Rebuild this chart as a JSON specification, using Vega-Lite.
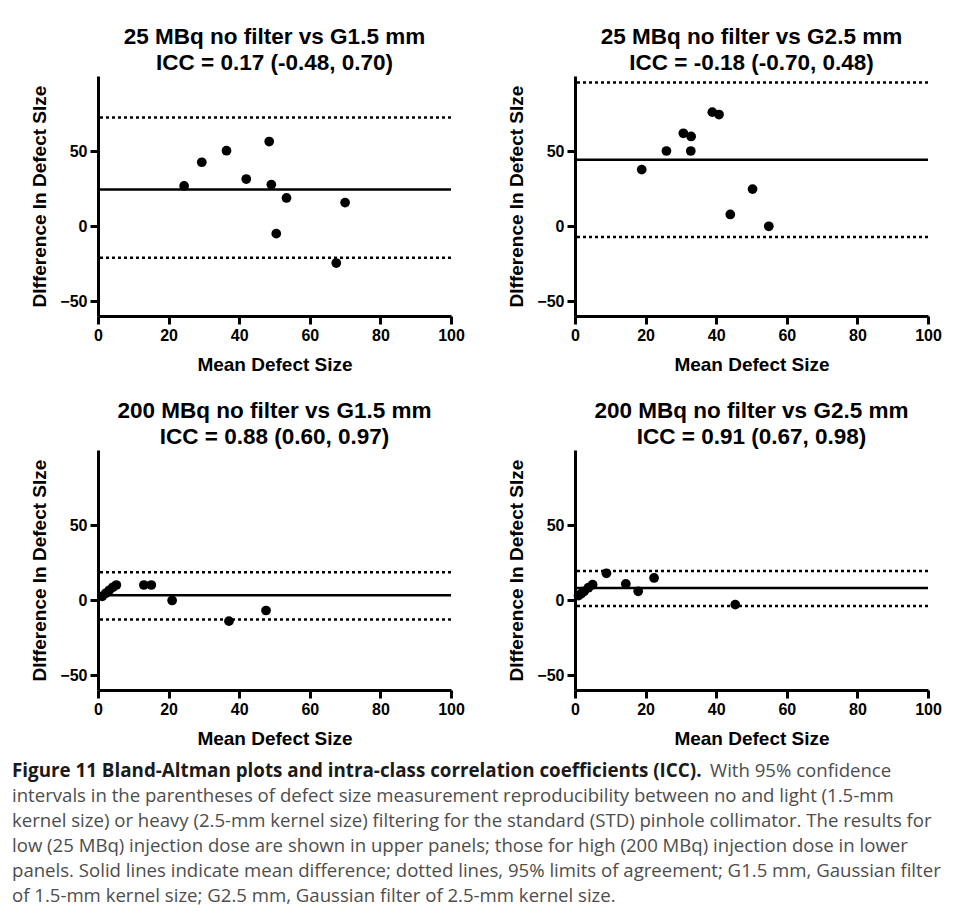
{
  "$schema": "https://vega.github.io/schema/vega-lite/v6.json",
  "background": "white",
  "padding": {"left": 12, "top": 25, "right": 0, "bottom": 0},
  "datasets": {
    "pts": [
      {"panel": "A", "mean": 24.4, "diff": 26.7},
      {"panel": "A", "mean": 29.4, "diff": 42.5},
      {"panel": "A", "mean": 36.4, "diff": 50.2},
      {"panel": "A", "mean": 42.0, "diff": 31.3},
      {"panel": "A", "mean": 48.5, "diff": 56.3},
      {"panel": "A", "mean": 49.1, "diff": 27.6},
      {"panel": "A", "mean": 53.4, "diff": 18.7},
      {"panel": "A", "mean": 50.5, "diff": -5.1},
      {"panel": "A", "mean": 67.5, "diff": -24.7},
      {"panel": "A", "mean": 70.0, "diff": 15.6},
      {"panel": "B", "mean": 18.9, "diff": 37.6},
      {"panel": "B", "mean": 25.9, "diff": 50.0},
      {"panel": "B", "mean": 30.7, "diff": 61.8},
      {"panel": "B", "mean": 32.9, "diff": 59.7},
      {"panel": "B", "mean": 32.8, "diff": 50.0},
      {"panel": "B", "mean": 38.9, "diff": 75.9},
      {"panel": "B", "mean": 40.8, "diff": 74.3},
      {"panel": "B", "mean": 50.3, "diff": 24.6},
      {"panel": "B", "mean": 44.0, "diff": 7.7},
      {"panel": "B", "mean": 54.9, "diff": -0.2},
      {"panel": "C", "mean": 1.2, "diff": 2.4},
      {"panel": "C", "mean": 2.2, "diff": 4.5},
      {"panel": "C", "mean": 3.2, "diff": 6.5},
      {"panel": "C", "mean": 4.2, "diff": 8.5},
      {"panel": "C", "mean": 5.2, "diff": 10.0},
      {"panel": "C", "mean": 13.0, "diff": 10.0},
      {"panel": "C", "mean": 15.1, "diff": 10.0},
      {"panel": "C", "mean": 21.0, "diff": -0.3},
      {"panel": "C", "mean": 37.1, "diff": -14.1},
      {"panel": "C", "mean": 47.6, "diff": -7.0},
      {"panel": "D", "mean": 1.0, "diff": 2.9},
      {"panel": "D", "mean": 1.8, "diff": 4.3},
      {"panel": "D", "mean": 2.6, "diff": 5.8},
      {"panel": "D", "mean": 3.8, "diff": 8.2},
      {"panel": "D", "mean": 5.0, "diff": 10.2},
      {"panel": "D", "mean": 8.9, "diff": 17.8},
      {"panel": "D", "mean": 14.4, "diff": 10.7},
      {"panel": "D", "mean": 17.9, "diff": 5.8},
      {"panel": "D", "mean": 22.4, "diff": 14.7},
      {"panel": "D", "mean": 45.4, "diff": -3.1}
    ],
    "lines": [
      {"panel": "A", "kind": "mean", "diff": 24.3},
      {"panel": "A", "kind": "limit", "diff": 72.3},
      {"panel": "A", "kind": "limit", "diff": -21.1},
      {"panel": "B", "kind": "mean", "diff": 44.2},
      {"panel": "B", "kind": "limit", "diff": 95.7},
      {"panel": "B", "kind": "limit", "diff": -7.4},
      {"panel": "C", "kind": "mean", "diff": 3.1},
      {"panel": "C", "kind": "limit", "diff": 18.5},
      {"panel": "C", "kind": "limit", "diff": -13.0},
      {"panel": "D", "kind": "mean", "diff": 8.0},
      {"panel": "D", "kind": "limit", "diff": 19.4},
      {"panel": "D", "kind": "limit", "diff": -4.0}
    ],
    "caption": [
      {"line": 1, "part": "bold", "text": "Figure 11 Bland-Altman plots and intra-class correlation coefficients (ICC)."},
      {"line": 1, "part": "tail", "text": "With 95% confidence"},
      {"line": 2, "part": "body", "text": "intervals in the parentheses of defect size measurement reproducibility between no and light (1.5-mm"},
      {"line": 3, "part": "body", "text": "kernel size) or heavy (2.5-mm kernel size) filtering for the standard (STD) pinhole collimator. The results for"},
      {"line": 4, "part": "body", "text": "low (25 MBq) injection dose are shown in upper panels; those for high (200 MBq) injection dose in lower"},
      {"line": 5, "part": "body", "text": "panels. Solid lines indicate mean difference; dotted lines, 95% limits of agreement; G1.5 mm, Gaussian filter"},
      {"line": 6, "part": "body", "text": "of 1.5-mm kernel size; G2.5 mm, Gaussian filter of 2.5-mm kernel size."}
    ]
  },
  "vconcat": [
    {
      "vconcat": [
        {
          "hconcat": [
            {
              "width": 353, "height": 240,
              "title": {"text": ["25 MBq no filter vs G1.5 mm", "ICC = 0.17 (-0.48, 0.70)"]},
              "layer": [
                {"data": {"name": "lines"}, "transform": [{"filter": "datum.panel === 'A' && datum.kind === 'mean'"}],
                 "mark": {"type": "rule", "strokeWidth": 2.5, "color": "black"},
                 "encoding": {"y": {"field": "diff", "type": "quantitative", "scale": {"domain": [-60, 100], "nice": false, "zero": false}, "axis": {"title": "DIfference In Defect SIze", "values": [-50, 0, 50]}}}},
                {"data": {"name": "lines"}, "transform": [{"filter": "datum.panel === 'A' && datum.kind === 'limit'"}],
                 "mark": {"type": "rule", "strokeWidth": 2.5, "strokeDash": [3, 3], "color": "black"},
                 "encoding": {"y": {"field": "diff", "type": "quantitative"}}},
                {"data": {"name": "pts"}, "transform": [{"filter": "datum.panel === 'A'"}],
                 "mark": {"type": "circle", "size": 95, "opacity": 1, "color": "black"},
                 "encoding": {
                   "x": {"field": "mean", "type": "quantitative", "scale": {"domain": [0, 100], "nice": false}, "axis": {"title": "Mean Defect Size", "values": [0, 20, 40, 60, 80, 100]}},
                   "y": {"field": "diff", "type": "quantitative"}}}
              ]
            },
            {
              "width": 353, "height": 240,
              "title": {"text": ["25 MBq no filter vs G2.5 mm", "ICC = -0.18 (-0.70, 0.48)"]},
              "layer": [
                {"data": {"name": "lines"}, "transform": [{"filter": "datum.panel === 'B' && datum.kind === 'mean'"}],
                 "mark": {"type": "rule", "strokeWidth": 2.5, "color": "black"},
                 "encoding": {"y": {"field": "diff", "type": "quantitative", "scale": {"domain": [-60, 100], "nice": false, "zero": false}, "axis": {"title": "DIfference In Defect SIze", "values": [-50, 0, 50]}}}},
                {"data": {"name": "lines"}, "transform": [{"filter": "datum.panel === 'B' && datum.kind === 'limit'"}],
                 "mark": {"type": "rule", "strokeWidth": 2.5, "strokeDash": [3, 3], "color": "black"},
                 "encoding": {"y": {"field": "diff", "type": "quantitative"}}},
                {"data": {"name": "pts"}, "transform": [{"filter": "datum.panel === 'B'"}],
                 "mark": {"type": "circle", "size": 95, "opacity": 1, "color": "black"},
                 "encoding": {
                   "x": {"field": "mean", "type": "quantitative", "scale": {"domain": [0, 100], "nice": false}, "axis": {"title": "Mean Defect Size", "values": [0, 20, 40, 60, 80, 100]}},
                   "y": {"field": "diff", "type": "quantitative"}}}
              ]
            }
          ]
        },
        {
          "hconcat": [
            {
              "width": 353, "height": 240,
              "title": {"text": ["200 MBq no filter vs G1.5 mm", "ICC = 0.88 (0.60, 0.97)"]},
              "layer": [
                {"data": {"name": "lines"}, "transform": [{"filter": "datum.panel === 'C' && datum.kind === 'mean'"}],
                 "mark": {"type": "rule", "strokeWidth": 2.5, "color": "black"},
                 "encoding": {"y": {"field": "diff", "type": "quantitative", "scale": {"domain": [-60, 100], "nice": false, "zero": false}, "axis": {"title": "DIfference In Defect SIze", "values": [-50, 0, 50]}}}},
                {"data": {"name": "lines"}, "transform": [{"filter": "datum.panel === 'C' && datum.kind === 'limit'"}],
                 "mark": {"type": "rule", "strokeWidth": 2.5, "strokeDash": [3, 3], "color": "black"},
                 "encoding": {"y": {"field": "diff", "type": "quantitative"}}},
                {"data": {"name": "pts"}, "transform": [{"filter": "datum.panel === 'C'"}],
                 "mark": {"type": "circle", "size": 95, "opacity": 1, "color": "black"},
                 "encoding": {
                   "x": {"field": "mean", "type": "quantitative", "scale": {"domain": [0, 100], "nice": false}, "axis": {"title": "Mean Defect Size", "values": [0, 20, 40, 60, 80, 100]}},
                   "y": {"field": "diff", "type": "quantitative"}}}
              ]
            },
            {
              "width": 353, "height": 240,
              "title": {"text": ["200 MBq no filter vs G2.5 mm", "ICC = 0.91 (0.67, 0.98)"]},
              "layer": [
                {"data": {"name": "lines"}, "transform": [{"filter": "datum.panel === 'D' && datum.kind === 'mean'"}],
                 "mark": {"type": "rule", "strokeWidth": 2.5, "color": "black"},
                 "encoding": {"y": {"field": "diff", "type": "quantitative", "scale": {"domain": [-60, 100], "nice": false, "zero": false}, "axis": {"title": "DIfference In Defect SIze", "values": [-50, 0, 50]}}}},
                {"data": {"name": "lines"}, "transform": [{"filter": "datum.panel === 'D' && datum.kind === 'limit'"}],
                 "mark": {"type": "rule", "strokeWidth": 2.5, "strokeDash": [3, 3], "color": "black"},
                 "encoding": {"y": {"field": "diff", "type": "quantitative"}}},
                {"data": {"name": "pts"}, "transform": [{"filter": "datum.panel === 'D'"}],
                 "mark": {"type": "circle", "size": 95, "opacity": 1, "color": "black"},
                 "encoding": {
                   "x": {"field": "mean", "type": "quantitative", "scale": {"domain": [0, 100], "nice": false}, "axis": {"title": "Mean Defect Size", "values": [0, 20, 40, 60, 80, 100]}},
                   "y": {"field": "diff", "type": "quantitative"}}}
              ]
            }
          ]
        }
      ],
      "spacing": 25
    },
    {
      "width": 830, "height": 150,
      "data": {"name": "caption"},
      "layer": [
        {"transform": [{"filter": "datum.part === 'bold'"}],
         "mark": {"type": "text", "align": "left", "baseline": "middle", "font": "Open Sans", "fontSize": 18.8, "fontWeight": "bold", "color": "#1a1a1a", "dx": -86},
         "encoding": {"y": {"field": "line", "type": "ordinal", "axis": null}, "x": {"value": 0}, "text": {"field": "text"}}},
        {"transform": [{"filter": "datum.part === 'tail'"}],
         "mark": {"type": "text", "align": "left", "baseline": "middle", "font": "Open Sans", "fontSize": 18.6, "color": "#4d4d4d", "dx": 612},
         "encoding": {"y": {"field": "line", "type": "ordinal", "axis": null}, "x": {"value": 0}, "text": {"field": "text"}}},
        {"transform": [{"filter": "datum.part === 'body'"}],
         "mark": {"type": "text", "align": "left", "baseline": "middle", "font": "Open Sans", "fontSize": 18.6, "color": "#4d4d4d", "dx": -86},
         "encoding": {"y": {"field": "line", "type": "ordinal", "axis": null}, "x": {"value": 0}, "text": {"field": "text"}}}
      ]
    }
  ],
  "spacing": 10,
  "config": {
    "view": {"stroke": null},
    "font": "Liberation Sans",
    "concat": {"spacing": 42},
    "title": {"font": "Liberation Sans", "fontSize": 22.5, "fontWeight": "bold", "color": "black", "lineHeight": 26, "offset": 2, "anchor": "middle"},
    "axis": {
      "grid": false,
      "domainColor": "black", "domainWidth": 3,
      "tickColor": "black", "tickWidth": 3, "tickSize": 8,
      "labelFont": "Liberation Sans", "labelFontSize": 16, "labelFontWeight": "bold", "labelColor": "black", "labelPadding": 3, "labelFlush": false,
      "titleFont": "Liberation Sans", "titleFontSize": 19, "titleFontWeight": "bold", "titleColor": "black"
    },
    "axisY": {"titlePadding": 10},
    "axisX": {"titlePadding": 12}
  }
}
